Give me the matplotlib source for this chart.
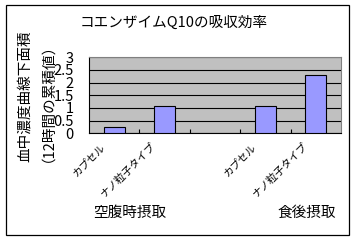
import matplotlib
matplotlib.use('Agg')
import matplotlib.pyplot as plt
import matplotlib.transforms as mtransforms
from matplotlib.patches import Rectangle

plt.rcParams['font.family'] = ['Noto Sans CJK JP', 'DejaVu Sans']

# data
categories = ['カプセル', 'ナノ粒子タイプ', '', 'カプセル', 'ナノ粒子タイプ']
values = [0.25, 1.07, None, 1.07, 2.29]
group_labels = ['空腹時摂取', '食後摂取']
group_x = [0.31, 3.83]
yticks = [0, 0.5, 1, 1.5, 2, 2.5, 3]
ytick_labels = ['0', '0.5', '1', '1.5', '2', '2.5', '3']
title = 'コエンザイムQ10の吸収効率'
ylabel_1 = '血中濃度曲線下面積'
ylabel_2 = '（12時間の累積値）'

fig = plt.figure(figsize=(3.56, 2.40), dpi=100)
fig.patch.set_facecolor('white')
fig.patches.append(Rectangle((5.5 / 356, 5 / 240), 343.5 / 356, 230 / 240,
                             transform=fig.transFigure, fill=False,
                             edgecolor='black', linewidth=0.9))

ax = fig.add_axes([89 / 356, 1 - 133.3 / 240, 252 / 356, 76 / 240])
ax.set_facecolor('#c0c0c0')

xs = [i for i, v in enumerate(values) if v is not None]
hs = [v for v in values if v is not None]
ax.bar(xs, hs, width=0.42, color='#9999ff', edgecolor='black', linewidth=0.8, zorder=3)

ax.set_xlim(-0.5, len(categories) - 0.5)
ax.set_ylim(0, 3)
ax.set_yticks(yticks)
ax.set_yticklabels(ytick_labels, fontsize=10.5)
ax.tick_params(axis='y', length=0, pad=11)
ax.yaxis.grid(True, color='black', linewidth=0.8)
ax.set_axisbelow(True)

# category labels drawn as rotated text under each slot
ax.set_xticks([])
ax.set_xticks([i + 0.5 for i in range(len(categories) - 1)], minor=True)
ax.tick_params(axis='x', which='minor', direction='in', length=3, width=0.8, labelbottom=False)
cat_trans = mtransforms.blended_transform_factory(ax.transData, ax.transAxes) + \
    mtransforms.ScaledTranslation(-7 / 100, -8 / 100, fig.dpi_scale_trans)
for i, c in enumerate(categories):
    if c:
        ax.text(i, 0, c, transform=cat_trans, rotation=45, ha='right', va='top', fontsize=7.5)

for side in ['left', 'bottom']:
    ax.spines[side].set_color('black')
    ax.spines[side].set_linewidth(0.8)
for side in ['top', 'right']:
    ax.spines[side].set_color('#808080')
    ax.spines[side].set_linewidth(0.8)

trans = mtransforms.blended_transform_factory(ax.transData, fig.transFigure)
for gx, gl in zip(group_x, group_labels):
    ax.text(gx, 1 - 213 / 240, gl, transform=trans, ha='center', va='center', fontsize=10.5)

fig.text(174 / 356, 1 - 22.5 / 240, title, ha='center', va='center', fontsize=10.5)
fig.text(25 / 356, 1 - 96 / 240, ylabel_1, rotation=90, ha='center', va='center', fontsize=10.5)
fig.text(40 / 356, 1 - 95 / 240, ylabel_2, rotation=90, ha='center', va='center', fontsize=10.5)

fig.savefig('out.png', dpi=100)
